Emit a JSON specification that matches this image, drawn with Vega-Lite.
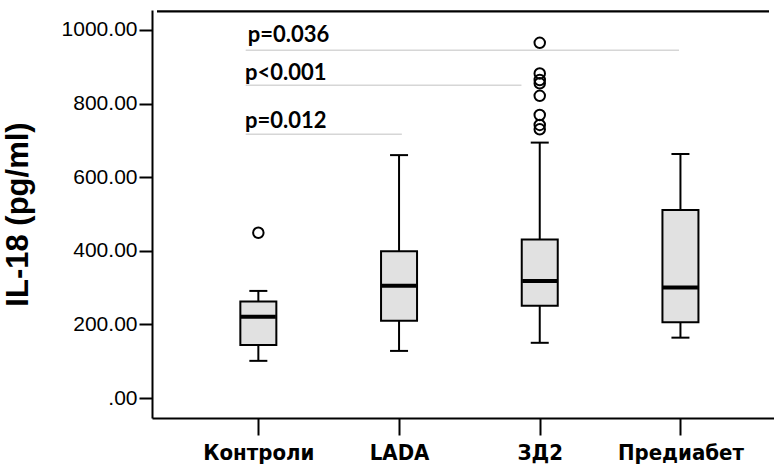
{
  "$schema": "https://vega.github.io/schema/vega-lite/v6.json",
  "autosize": "none",
  "width": 622,
  "height": 408,
  "padding": {"left": 152, "top": 10, "right": 0, "bottom": 52},
  "background": "white",
  "config": {"view": {"stroke": null}},
  "datasets": {
    "boxes": [
      {"group": "Контроли", "i": 0, "lower": 101, "q1": 144, "median": 221, "q3": 262, "upper": 291},
      {"group": "LADA", "i": 1, "lower": 128, "q1": 210, "median": 305, "q3": 399, "upper": 660},
      {"group": "ЗД2", "i": 2, "lower": 150, "q1": 251, "median": 318, "q3": 431, "upper": 694},
      {"group": "Предиабет", "i": 3, "lower": 164, "q1": 206, "median": 300, "q3": 511, "upper": 663}
    ],
    "outliers": [
      {"group": "Контроли", "i": 0, "value": 449},
      {"group": "ЗД2", "i": 2, "value": 965},
      {"group": "ЗД2", "i": 2, "value": 882},
      {"group": "ЗД2", "i": 2, "value": 864},
      {"group": "ЗД2", "i": 2, "value": 855},
      {"group": "ЗД2", "i": 2, "value": 821},
      {"group": "ЗД2", "i": 2, "value": 769},
      {"group": "ЗД2", "i": 2, "value": 742},
      {"group": "ЗД2", "i": 2, "value": 730}
    ],
    "pvalues": [
      {"label": "p=0.036", "from": -0.09, "to": 2.99, "line": 945, "textX": -0.075, "textY": 967},
      {"label": "p<0.001", "from": -0.09, "to": 1.87, "line": 850, "textX": -0.095, "textY": 864},
      {"label": "p=0.012", "from": -0.09, "to": 1.02, "line": 717, "textX": -0.095, "textY": 734}
    ],
    "border": [{"xa": -0.7203, "xb": 3.6294, "ya": 1047.5, "yb": 1053.5}]
  },
  "layer": [
    {
      "data": {"name": "boxes"},
      "mark": {"type": "rule", "color": "black", "strokeWidth": 2},
      "encoding": {
        "x": {
          "field": "i", "type": "quantitative",
          "scale": {"domain": [-0.7203, 3.6294], "nice": false, "zero": false},
          "axis": {
            "orient": "bottom", "values": [0, 1, 2, 3],
            "labelExpr": "['Контроли','LADA','ЗД2','Предиабет'][datum.value]",
            "title": null, "grid": false,
            "domainColor": "black", "domainWidth": 2,
            "tickColor": "black", "tickWidth": 2, "tickSize": 17,
            "labelFont": "Liberation Sans Narrow, DejaVu Sans Condensed, Liberation Sans",
            "labelFontWeight": "bold", "labelFontSize": 22, "labelColor": "black",
            "labelPadding": 7, "labelFlush": false, "labelOverlap": false
          }
        },
        "y": {
          "field": "lower", "type": "quantitative",
          "scale": {"domain": [-54.3, 1054.3], "nice": false, "zero": false},
          "axis": {
            "values": [0, 200, 400, 600, 800, 1000],
            "labelExpr": "datum.value == 0 ? '.00' : format(datum.value, '.2f')",
            "title": "IL-18 (pg/ml)",
            "titleFont": "Liberation Sans", "titleFontWeight": "bold", "titleFontSize": 31,
            "titleColor": "black", "titlePadding": 27,
            "labelFont": "Liberation Sans", "labelFontSize": 21, "labelColor": "black",
            "labelPadding": 2, "grid": false,
            "domainColor": "black", "domainWidth": 2,
            "tickColor": "black", "tickWidth": 2, "tickSize": 13
          }
        },
        "y2": {"field": "upper"}
      }
    },
    {
      "data": {"name": "border"},
      "mark": {"type": "rect", "color": "black", "opacity": 1},
      "encoding": {
        "x": {"field": "xa", "type": "quantitative"},
        "x2": {"field": "xb"},
        "y": {"field": "ya", "type": "quantitative"},
        "y2": {"field": "yb"}
      }
    },
    {
      "data": {"name": "boxes"},
      "mark": {"type": "tick", "orient": "horizontal", "color": "black", "size": 18, "thickness": 2, "opacity": 1},
      "encoding": {
        "x": {"field": "i", "type": "quantitative"},
        "y": {"field": "lower", "type": "quantitative"}
      }
    },
    {
      "data": {"name": "boxes"},
      "mark": {"type": "tick", "orient": "horizontal", "color": "black", "size": 18, "thickness": 2, "opacity": 1},
      "encoding": {
        "x": {"field": "i", "type": "quantitative"},
        "y": {"field": "upper", "type": "quantitative"}
      }
    },
    {
      "data": {"name": "boxes"},
      "mark": {"type": "bar", "orient": "vertical", "width": 36, "fill": "#e1e1e1", "stroke": "black", "strokeWidth": 2},
      "encoding": {
        "x": {"field": "i", "type": "quantitative"},
        "y": {"field": "q1", "type": "quantitative"},
        "y2": {"field": "q3"}
      }
    },
    {
      "data": {"name": "boxes"},
      "mark": {"type": "tick", "orient": "horizontal", "color": "black", "size": 35, "thickness": 4, "opacity": 1},
      "encoding": {
        "x": {"field": "i", "type": "quantitative"},
        "y": {"field": "median", "type": "quantitative"}
      }
    },
    {
      "data": {"name": "outliers"},
      "mark": {"type": "point", "shape": "circle", "filled": false, "stroke": "black", "strokeWidth": 2, "size": 110, "opacity": 1},
      "encoding": {
        "x": {"field": "i", "type": "quantitative"},
        "y": {"field": "value", "type": "quantitative"}
      }
    },
    {
      "data": {"name": "pvalues"},
      "mark": {"type": "rule", "color": "#d6d6d6", "strokeWidth": 1.5},
      "encoding": {
        "x": {"field": "from", "type": "quantitative"},
        "x2": {"field": "to"},
        "y": {"field": "line", "type": "quantitative"}
      }
    },
    {
      "data": {"name": "pvalues"},
      "mark": {"type": "text", "align": "left", "baseline": "alphabetic", "font": "Lato", "fontWeight": "bold", "fontSize": 22, "color": "black"},
      "encoding": {
        "x": {"field": "textX", "type": "quantitative"},
        "y": {"field": "textY", "type": "quantitative"},
        "text": {"field": "label"}
      }
    }
  ]
}
